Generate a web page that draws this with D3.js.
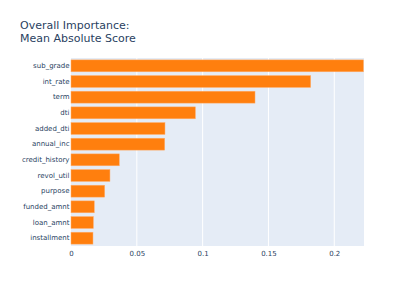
<!DOCTYPE html>
<html>
<head>
<meta charset="utf-8">
<script src="https://cdn.jsdelivr.net/npm/d3@7"></script>
<style>
  html, body { margin: 0; padding: 0; background: #fff; }
  text { font-family: "DejaVu Sans", Verdana, sans-serif; fill: #2a3f5f; }
</style>
</head>
<body>
<div id="chart"></div>
<script>
// feature names, top to bottom
const features = ["sub_grade", "int_rate", "term", "dti", "added_dti", "annual_inc",
  "credit_history", "revol_util", "purpose", "funded_amnt", "loan_amnt", "installment"];
// mean absolute score per feature
const scores = [0.2222, 0.1821, 0.1398, 0.0945, 0.0714, 0.0712,
  0.0367, 0.0296, 0.0256, 0.0177, 0.0170, 0.0167];
const xTicks = [0, 0.05, 0.1, 0.15, 0.2];
const titleLines = ["Overall Importance:", "Mean Absolute Score"];

const width = 411, height = 294;
const margin = { top: 58, right: 47, bottom: 48, left: 71 };
const innerWidth = width - margin.left - margin.right;
const innerHeight = height - margin.top - margin.bottom;

const svg = d3.select("#chart").append("svg")
  .attr("width", width)
  .attr("height", height);

// title, two lines
svg.append("text")
  .attr("x", 20)
  .attr("y", 29)
  .style("font-size", "11px")
  .selectAll("tspan")
  .data(titleLines)
  .join("tspan")
  .attr("x", 20)
  .attr("dy", (d, i) => i === 0 ? 0 : 13)
  .text(d => d);

const g = svg.append("g")
  .attr("transform", `translate(${margin.left},${margin.top})`);

const x = d3.scaleLinear()
  .domain([0, 0.2226])
  .range([0, innerWidth]);

// plotly-like bands: half the gap at each end
const y = d3.scaleBand()
  .domain(features)
  .range([0, innerHeight])
  .paddingInner(0.24)
  .paddingOuter(0.12);

// plot background
g.append("rect")
  .attr("width", innerWidth)
  .attr("height", innerHeight)
  .attr("fill", "#e5ecf6");

// vertical grid lines
g.selectAll("line.grid")
  .data(xTicks.filter(d => d > 0))
  .join("line")
  .attr("class", "grid")
  .attr("x1", d => x(d)).attr("x2", d => x(d))
  .attr("y1", 0).attr("y2", innerHeight)
  .attr("stroke", "#fff")
  .attr("stroke-width", 1);

// bars
g.selectAll("rect.bar")
  .data(features)
  .join("rect")
  .attr("class", "bar")
  .attr("x", 0)
  .attr("y", d => y(d))
  .attr("width", (d, i) => x(scores[i]))
  .attr("height", y.bandwidth())
  .attr("fill", "#ff7f0e")
  .attr("stroke", "#ffb070")
  .attr("stroke-width", 0.5);

// x axis
const xAxis = g.append("g")
  .attr("transform", `translate(0,${innerHeight})`)
  .call(d3.axisBottom(x).tickValues(xTicks).tickSize(0).tickPadding(5)
    .tickFormat(d => d3.format("")(d)));
xAxis.attr("font-family", null);
xAxis.select(".domain").remove();
xAxis.selectAll("text")
  .style("font-size", "7px")
  .attr("fill", "#2a3f5f");

// y axis
const yAxis = g.append("g")
  .call(d3.axisLeft(y).tickSize(0).tickPadding(1.5));
yAxis.attr("font-family", null);
yAxis.select(".domain").remove();
yAxis.selectAll("text")
  .style("font-size", "7px")
  .attr("fill", "#2a3f5f");
</script>
</body>
</html>
